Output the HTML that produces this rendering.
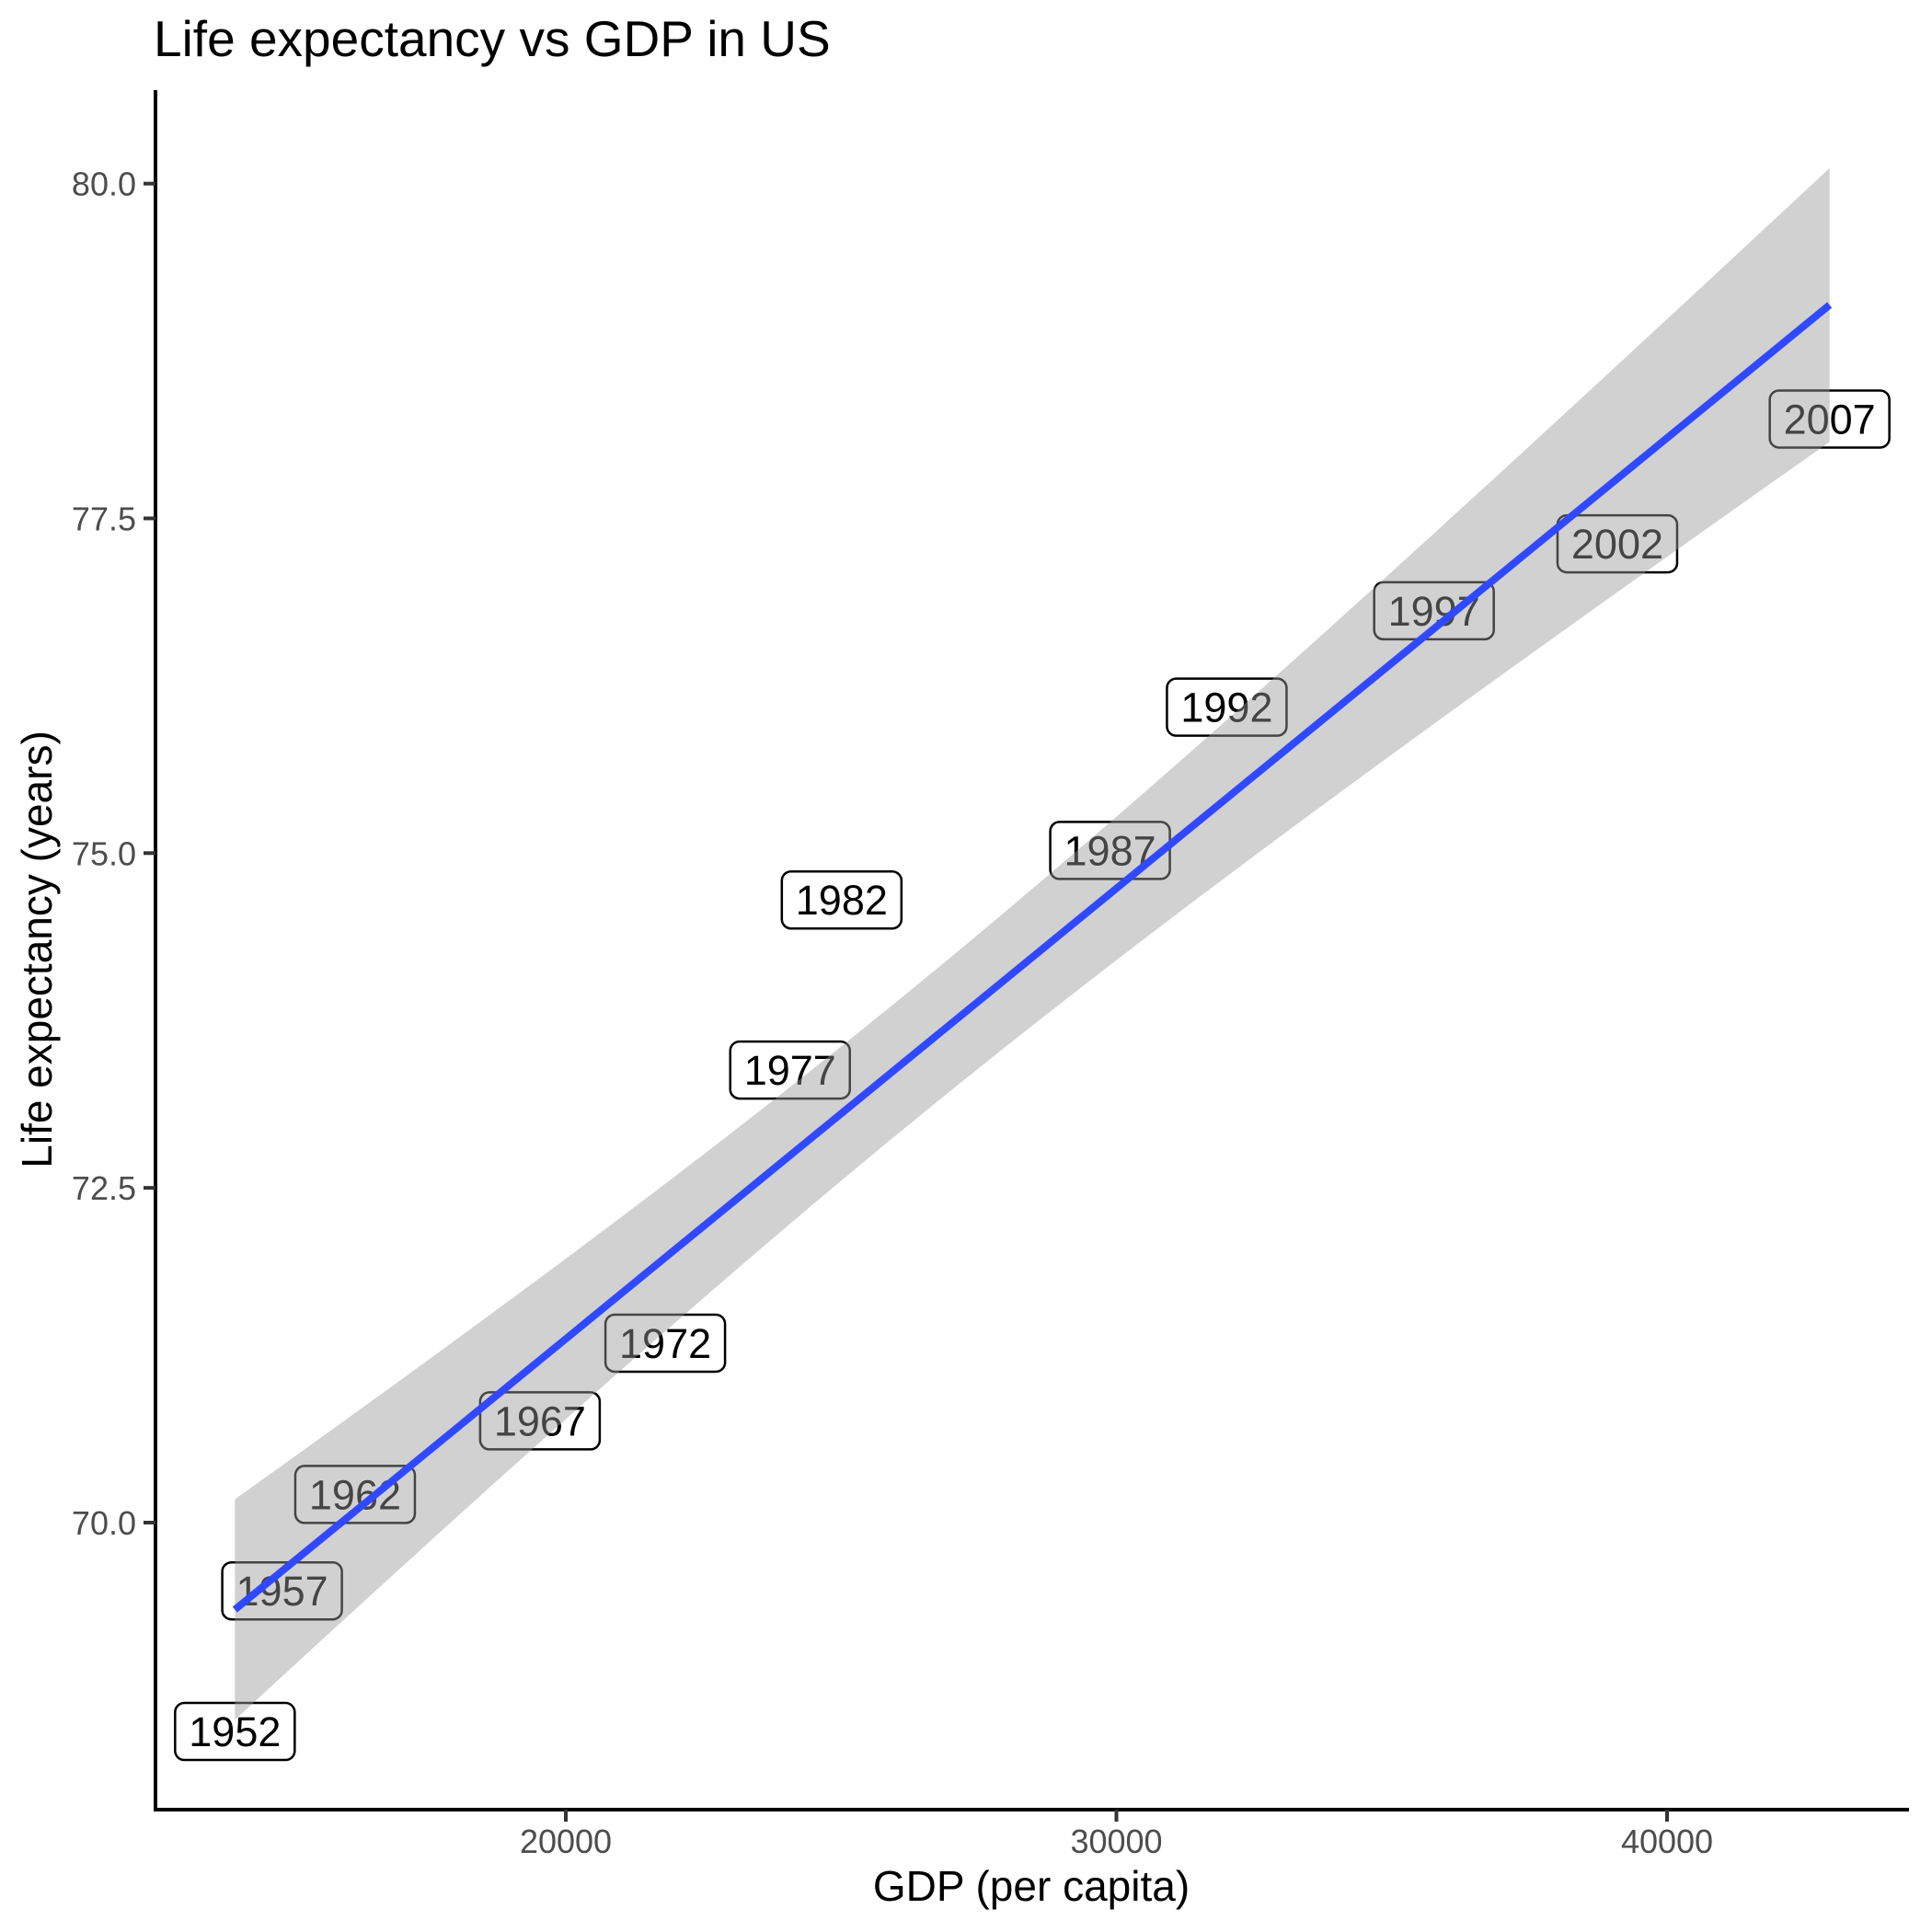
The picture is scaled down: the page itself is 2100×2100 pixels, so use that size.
<!DOCTYPE html>
<html><head><meta charset="utf-8"><style>
html,body{margin:0;padding:0;background:#fff}
svg{display:block}
text{font-family:"Liberation Sans",Arial,sans-serif}
</style></head><body>
<svg id="chart" width="2100" height="2100" viewBox="0 0 2100 2100">
<text x="167" y="61" font-size="55" fill="#000">Life expectancy vs GDP in US</text>
<g id="labels"></g>
<g id="band"></g>
<g id="fit"></g>
<g id="axes"></g>
<text x="1121" y="2066" font-size="46" text-anchor="middle" fill="#000">GDP (per capita)</text>
<text transform="translate(56,1032) rotate(-90)" font-size="46" text-anchor="middle" fill="#000">Life expectancy (years)</text>
</svg>
<script>
const years = [1952,1957,1962,1967,1972,1977,1982,1987,1992,1997,2002,2007];
const gdp = [13990.48,14847.13,16173.15,19530.37,21806.04,24072.63,25009.56,29884.35,32003.93,35767.43,39097.10,42951.65];
const lifeExp = [68.44,69.49,70.21,70.76,71.34,73.38,74.65,75.02,76.09,76.81,77.31,78.242];
const xTicks = [20000,30000,40000];
const yTicks = [70,72.5,75,77.5,80];
const yTickLabels = ["70.0","72.5","75.0","77.5","80.0"];

const NS="http://www.w3.org/2000/svg";
const X=v=>615+(v-20000)*(1812-615)/20000;
const Y=v=>1655-(v-70)*(1655-199.6)/10;
function mk(tag,attrs,parent){const e=document.createElementNS(NS,tag);for(const k in attrs)e.setAttribute(k,attrs[k]);parent.appendChild(e);return e;}

const gl=document.getElementById('labels');
years.forEach((yr,i)=>{
  const cx=X(gdp[i]),cy=Y(lifeExp[i]);
  const g=mk('g',{},gl);
  
  
  mk('rect',{x:cx-65,y:cy-31,width:130,height:62,rx:10,fill:'#fff',stroke:'#000','stroke-width':2.5},g);
  const t=mk('text',{x:cx,y:cy+16,'font-size':45,'text-anchor':'middle',fill:'#000'},g);
  t.textContent=yr;
});

const n=gdp.length;
const mx=gdp.reduce((a,b)=>a+b)/n, my=lifeExp.reduce((a,b)=>a+b)/n;
let sxx=0,sxy=0;for(let i=0;i<n;i++){sxx+=(gdp[i]-mx)**2;sxy+=(gdp[i]-mx)*(lifeExp[i]-my);}
const b=sxy/sxx,a=my-b*mx;
let sse=0;for(let i=0;i<n;i++)sse+=(lifeExp[i]-a-b*gdp[i])**2;
const s=Math.sqrt(sse/(n-2)),tq=2.228;
const x0=Math.min(...gdp),x1=Math.max(...gdp);
const up=[],lo=[];
for(let k=0;k<=80;k++){const xv=x0+(x1-x0)*k/80;const se=s*Math.sqrt(1/n+(xv-mx)**2/sxx);const f=a+b*xv;
 up.push(X(xv)+','+Y(f+tq*se));lo.push(X(xv)+','+Y(f-tq*se));}
const band=mk('polygon',{points:up.concat(lo.reverse()).join(' '),fill:'#999999','fill-opacity':0.45},document.getElementById('band'));


const ln=mk('line',{x1:X(x0),y1:Y(a+b*x0),x2:X(x1),y2:Y(a+b*x1),stroke:'#3049FF','stroke-width':8},document.getElementById('fit'));



const ga=document.getElementById('axes');
const ya=mk('line',{x1:169,y1:98,x2:169,y2:1969,stroke:'#000','stroke-width':4},ga);


const xa=mk('line',{x1:167,y1:1967,x2:2075,y2:1967,stroke:'#000','stroke-width':4},ga);


xTicks.forEach(v=>{
  const tk=mk('line',{x1:X(v),y1:1967,x2:X(v),y2:1980,stroke:'#333','stroke-width':4},ga);
  
  
  const t=mk('text',{x:X(v),y:2014,'font-size':36,'text-anchor':'middle',fill:'#4d4d4d'},ga);
  t.textContent=v;
  
  
});
yTicks.forEach((v,i)=>{
  const tk=mk('line',{x1:156,y1:Y(v),x2:169,y2:Y(v),stroke:'#333','stroke-width':4},ga);
  
  
  const t=mk('text',{x:148,y:Y(v)+13,'font-size':36,'text-anchor':'end',fill:'#4d4d4d'},ga);
  t.textContent=yTickLabels[i];
  
  
});
</script>
</body></html>
